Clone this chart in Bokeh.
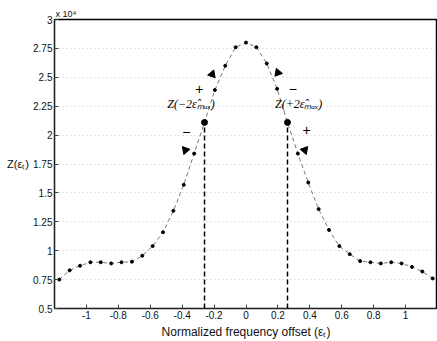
from bokeh.plotting import figure
from bokeh.models import Label, Range1d, FixedTicker, CustomJSTickFormatter
from bokeh.embed import file_html
from bokeh.resources import INLINE

# Normalized frequency offsets (epsilon_t)
offsets = [-1.17, -1.105, -1.04, -0.975, -0.91, -0.845, -0.78, -0.715, -0.65,
           -0.585, -0.52, -0.455, -0.39, -0.325, -0.26, -0.195, -0.13, -0.065,
           0.0,
           0.065, 0.13, 0.195, 0.26, 0.325, 0.39, 0.455, 0.52, 0.585,
           0.65, 0.715, 0.78, 0.845, 0.91, 0.975, 1.04, 1.105, 1.17]
# Z(eps_t) in units of 1e4
z_e4 = [0.75, 0.83, 0.87, 0.90, 0.90, 0.89, 0.90, 0.905, 0.957,
        1.04, 1.16, 1.345, 1.57, 1.84, 2.11, 2.39, 2.60, 2.76,
        2.80,
        2.76, 2.62, 2.40, 2.11, 1.84, 1.59, 1.36, 1.18, 1.04,
        0.97, 0.91, 0.90, 0.89, 0.90, 0.89, 0.86, 0.82, 0.76]

# Z(-2 eps_max) and Z(+2 eps_max) marker points
mark_x = [-0.26, 0.26]
mark_z = [2.11, 2.11]

x_ticks = [-1, -0.8, -0.6, -0.4, -0.2, 0, 0.2, 0.4, 0.6, 0.8, 1]
y_ticks = [0.5, 0.75, 1, 1.25, 1.5, 1.75, 2, 2.25, 2.5, 2.75, 3]
y_min, y_max = 0.5, 3.0
x_min, x_max = -1.2, 1.2

# arrowheads along the curve
arrow_x = [-0.212, 0.20, -0.38, 0.368]
arrow_z = [2.526, 2.54, 1.87, 1.87]

p = figure(width=437, height=341, x_range=Range1d(x_min, x_max),
           y_range=Range1d(y_min, y_max), output_backend="svg",
           toolbar_location=None, min_border_left=54, min_border_right=0,
           min_border_top=19, min_border_bottom=32)
p.background_fill_color = "white"
p.border_fill_color = "white"
p.outline_line_color = "black"
p.outline_line_width = 1.5

p.title.text = "x 10⁴"
p.title.align = "left"
p.title.offset = 1
p.title.standoff = 1
p.title.text_font = "Liberation Sans"
p.title.text_font_size = "9px"
p.title.text_font_style = "normal"
p.title.text_color = "#111111"

fmt = CustomJSTickFormatter(code="return String(Math.round(tick*100)/100);")
for ax, ticks in ((p.xaxis, x_ticks), (p.yaxis, y_ticks)):
    ax.ticker = FixedTicker(ticks=ticks)
    ax.formatter = fmt
    ax.major_tick_in = 4
    ax.major_tick_out = 0
    ax.minor_tick_line_color = None
    ax.axis_line_color = "#222222"
    ax.major_tick_line_color = "#444444"
    ax.major_label_text_font = "Liberation Sans"
    ax.major_label_text_font_size = "10px"
    ax.major_label_text_color = "#111111"
    ax.major_label_standoff = 2
    ax.axis_label_text_font = "Liberation Sans"
    ax.axis_label_text_font_style = "normal"
    ax.axis_label_text_color = "#111111"

p.xaxis.axis_label = "Normalized frequency offset (εₜ)"
p.xaxis.axis_label_text_font_size = "12px"
p.xaxis.axis_label_standoff = 3
p.yaxis.axis_label = "Z(εₜ)"
p.yaxis.axis_label_text_font_size = "11px"
p.yaxis.axis_label_orientation = "horizontal"
p.yaxis.axis_label_standoff = 1

p.xgrid.grid_line_color = None
p.ygrid.grid_line_color = "#c8c8c8"
p.ygrid.grid_line_dash = "1 3"

p.line(offsets, z_e4, line_color="#555555", line_dash="4 3", line_width=0.8)
p.scatter(offsets, z_e4, size=3, color="black")

p.segment(x0=mark_x, y0=[y_min, y_min], x1=mark_x, y1=mark_z,
          line_color="black", line_dash="5 3", line_width=1.5)
p.scatter(mark_x, mark_z, size=6, color="black")

p.scatter(arrow_x[:2], arrow_z[:2], marker="triangle", size=8, color="black",
          angle=[-0.35, 0.35])
p.scatter(arrow_x[2:], arrow_z[2:], marker="inverted_triangle", size=8, color="black",
          angle=[-0.35, 0.35])

serif = dict(text_font="Liberation Serif", text_font_style="italic", text_color="black",
             text_font_size="12px", text_align="center", text_baseline="middle")
p.add_layout(Label(x=-0.345, y=2.27, text="Z(−2ε̂ₘₐₓ)", **serif))
p.add_layout(Label(x=0.33, y=2.27, text="Z(+2ε̂ₘₐₓ)", **serif))

sign = dict(text_font="Liberation Sans", text_font_size="14px", text_color="black",
            text_align="center", text_baseline="middle")
p.add_layout(Label(x=-0.293, y=2.40, text="+", **sign))
p.add_layout(Label(x=-0.374, y=2.03, text="−", **sign))
p.add_layout(Label(x=0.293, y=2.40, text="−", **sign))
p.add_layout(Label(x=0.38, y=2.04, text="+", **sign))

open("out.html", "w").write(file_html(p, INLINE))
